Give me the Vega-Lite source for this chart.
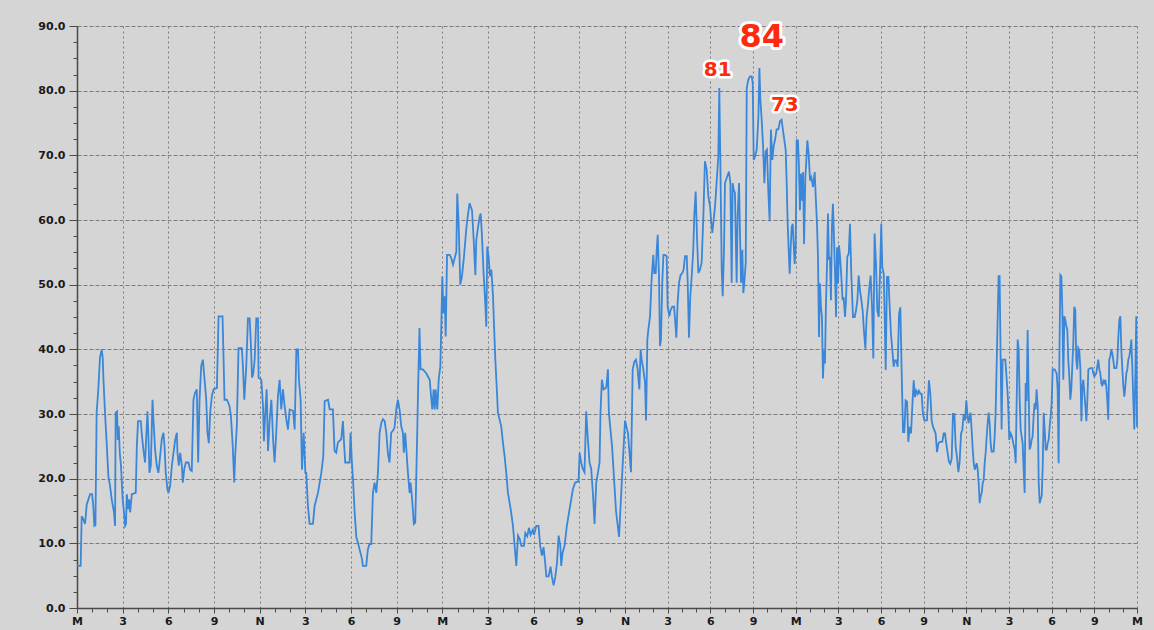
{
"$schema": "https://vega.github.io/schema/vega-lite/v6.json",
"width": 1060, "height": 582,
"autosize": {"type": "none"},
"padding": {"left": 77, "top": 26, "right": 17, "bottom": 22},
"background": "#d5d5d5",
"config": {"view": {"stroke": null, "fill": "#d5d5d5"}},
"datasets": {
"big": [{"label": "84", "h": 45.61, "v": 88.3}],
"small": [{"label": "81", "h": 42.52, "v": 83.2}, {"label": "73", "h": 47.24, "v": 77.8}],
"series": [
{"h":0,"v":6.5},{"h":0.24,"v":6.5},{"h":0.31,"v":14.2},{"h":0.42,"v":13.7},{"h":0.53,"v":13.0},{"h":0.64,"v":16},{"h":0.86,"v":17.6},{"h":0.99,"v":17.6},{"h":1.07,"v":15.8},{"h":1.14,"v":12.7},{"h":1.21,"v":12.8},{"h":1.25,"v":21.4},{"h":1.29,"v":30.2},{"h":1.40,"v":33.8},{"h":1.51,"v":38.7},{"h":1.62,"v":40},{"h":1.69,"v":38.7},{"h":1.73,"v":35.8},{"h":1.84,"v":30.2},{"h":1.95,"v":25.5},{"h":2.06,"v":20.4},{"h":2.17,"v":18.9},{"h":2.28,"v":16.8},{"h":2.43,"v":14.8},{"h":2.50,"v":12.7},{"h":2.54,"v":30.2},{"h":2.63,"v":30.4},{"h":2.68,"v":26},{"h":2.74,"v":28.1},{"h":2.81,"v":24},{"h":2.89,"v":22},{"h":3.00,"v":16.8},{"h":3.09,"v":14.8},{"h":3.16,"v":12.7},{"h":3.22,"v":13},{"h":3.27,"v":17.6},{"h":3.36,"v":15.3},{"h":3.42,"v":16.8},{"h":3.49,"v":14.8},{"h":3.60,"v":17.6},{"h":3.86,"v":17.8},{"h":3.93,"v":25},{"h":4.01,"v":28.9},{"h":4.19,"v":28.9},{"h":4.25,"v":27.1},{"h":4.36,"v":24.5},{"h":4.47,"v":22.5},{"h":4.54,"v":26},{"h":4.63,"v":30.4},{"h":4.69,"v":26.6},{"h":4.76,"v":20.9},{"h":4.85,"v":22},{"h":4.96,"v":32.2},{"h":5.02,"v":29.2},{"h":5.13,"v":24.5},{"h":5.24,"v":22},{"h":5.35,"v":20.9},{"h":5.46,"v":23.5},{"h":5.57,"v":26.1},{"h":5.68,"v":27.1},{"h":5.75,"v":25},{"h":5.83,"v":20.9},{"h":5.94,"v":18.4},{"h":6.01,"v":17.8},{"h":6.12,"v":18.9},{"h":6.23,"v":22},{"h":6.34,"v":24},{"h":6.45,"v":26},{"h":6.56,"v":27.1},{"h":6.60,"v":24},{"h":6.69,"v":22},{"h":6.78,"v":24},{"h":6.89,"v":22},{"h":6.95,"v":19.4},{"h":7.04,"v":21.4},{"h":7.15,"v":22.5},{"h":7.32,"v":22.5},{"h":7.43,"v":21.4},{"h":7.54,"v":21.2},{"h":7.65,"v":32.2},{"h":7.76,"v":33.3},{"h":7.87,"v":33.8},{"h":7.96,"v":22.5},{"h":8.05,"v":32.2},{"h":8.16,"v":37.4},{"h":8.27,"v":38.4},{"h":8.38,"v":35.3},{"h":8.49,"v":32.2},{"h":8.57,"v":27.1},{"h":8.66,"v":25.5},{"h":8.75,"v":30.2},{"h":8.86,"v":32.8},{"h":8.97,"v":33.8},{"h":9.19,"v":34},{"h":9.30,"v":45.1},{"h":9.56,"v":45.1},{"h":9.63,"v":38.4},{"h":9.69,"v":32.2},{"h":9.85,"v":32.2},{"h":10.02,"v":31.2},{"h":10.11,"v":29.7},{"h":10.22,"v":25.5},{"h":10.33,"v":19.4},{"h":10.39,"v":23.5},{"h":10.50,"v":28.1},{"h":10.61,"v":40.2},{"h":10.83,"v":40.2},{"h":10.90,"v":37.4},{"h":10.99,"v":32.2},
{"h":11.12,"v":37.4},{"h":11.23,"v":44.8},{"h":11.34,"v":44.8},{"h":11.41,"v":41.5},{"h":11.50,"v":35.6},{"h":11.58,"v":36.3},{"h":11.67,"v":38.4},{"h":11.78,"v":44.8},{"h":11.89,"v":44.8},{"h":11.93,"v":35.6},{"h":12.11,"v":35.3},{"h":12.22,"v":31.2},{"h":12.28,"v":25.8},{"h":12.37,"v":30.2},{"h":12.46,"v":33.8},{"h":12.55,"v":24.3},{"h":12.66,"v":29.2},{"h":12.77,"v":32.2},{"h":12.88,"v":26.1},{"h":12.98,"v":22.5},{"h":13.09,"v":27.1},{"h":13.20,"v":32.7},{"h":13.31,"v":35.3},{"h":13.42,"v":30.7},{"h":13.53,"v":33.8},{"h":13.64,"v":31.2},{"h":13.75,"v":29.2},{"h":13.86,"v":27.6},{"h":13.97,"v":30.7},{"h":14.19,"v":30.5},{"h":14.30,"v":27.6},{"h":14.41,"v":40},{"h":14.52,"v":40},{"h":14.58,"v":35.3},{"h":14.69,"v":32.2},{"h":14.78,"v":21.4},{"h":14.89,"v":27.1},{"h":15.00,"v":20.9},{"h":15.06,"v":20.9},{"h":15.17,"v":15.8},{"h":15.28,"v":13.0},{"h":15.50,"v":13.0},{"h":15.61,"v":15.8},{"h":15.83,"v":17.8},{"h":16.05,"v":20.9},{"h":16.18,"v":23.5},{"h":16.27,"v":32},{"h":16.49,"v":32.2},{"h":16.60,"v":30.7},{"h":16.81,"v":30.7},{"h":16.92,"v":24.3},{"h":17.03,"v":24},{"h":17.14,"v":25.6},{"h":17.36,"v":26.1},{"h":17.47,"v":28.9},{"h":17.54,"v":25.6},{"h":17.62,"v":22.5},{"h":17.91,"v":22.5},{"h":17.97,"v":27.1},{"h":18.06,"v":22.5},{"h":18.13,"v":19.9},{"h":18.24,"v":14.8},{"h":18.35,"v":10.9},{"h":18.46,"v":10.1},{"h":18.56,"v":9.1},{"h":18.72,"v":7.6},{"h":18.78,"v":6.5},{"h":19.00,"v":6.5},{"h":19.11,"v":9.1},{"h":19.22,"v":9.9},{"h":19.33,"v":9.9},{"h":19.44,"v":17.8},{"h":19.55,"v":19.4},{"h":19.66,"v":17.8},{"h":19.77,"v":20.9},{"h":19.88,"v":27.1},{"h":19.99,"v":28.6},{"h":20.10,"v":29.2},{"h":20.21,"v":28.9},{"h":20.32,"v":27.1},{"h":20.42,"v":24},{"h":20.53,"v":22.5},{"h":20.64,"v":27.1},{"h":20.75,"v":27.4},{"h":20.86,"v":27.9},{"h":20.97,"v":30.7},{"h":21.08,"v":32.2},{"h":21.19,"v":30.7},{"h":21.30,"v":28.1},{"h":21.41,"v":27.1},{"h":21.47,"v":24},{"h":21.56,"v":27.1},{"h":21.65,"v":24},{"h":21.74,"v":20.9},{"h":21.85,"v":17.8},{"h":21.91,"v":19.4},{"h":22.00,"v":17.3},{"h":22.13,"v":13},{"h":22.22,"v":13.2},{"h":22.28,"v":19.4},{"h":22.35,"v":27.1},{"h":22.42,"v":35.3},{"h":22.50,"v":43.3},{"h":22.57,"v":36.9},{"h":22.72,"v":36.9},{"h":22.94,"v":36.3},
{"h":23.17,"v":35.3},{"h":23.28,"v":32.2},{"h":23.34,"v":30.7},{"h":23.43,"v":33.8},{"h":23.50,"v":30.7},{"h":23.56,"v":33.8},{"h":23.67,"v":30.7},{"h":23.76,"v":35.3},{"h":23.87,"v":37.4},{"h":23.93,"v":43.5},{"h":24.00,"v":51.3},{"h":24.07,"v":45.6},{"h":24.15,"v":48.2},{"h":24.22,"v":42},{"h":24.31,"v":54.6},{"h":24.48,"v":54.6},{"h":24.59,"v":54.1},{"h":24.70,"v":53.1},{"h":24.81,"v":54.1},{"h":24.92,"v":55.1},{"h":24.98,"v":64.1},{"h":25.07,"v":59.5},{"h":25.18,"v":50},{"h":25.29,"v":51.3},{"h":25.42,"v":54.3},{"h":25.58,"v":58.8},{"h":25.68,"v":60.8},{"h":25.79,"v":62.6},{"h":25.95,"v":61.5},{"h":26.06,"v":56.9},{"h":26.17,"v":51.5},{"h":26.23,"v":56.9},{"h":26.34,"v":58.8},{"h":26.45,"v":60.5},{"h":26.52,"v":61},{"h":26.60,"v":57.7},{"h":26.71,"v":51.8},{"h":26.82,"v":47.1},{"h":26.89,"v":43.5},{"h":26.95,"v":55.9},{"h":27.04,"v":54.3},{"h":27.13,"v":51.3},{"h":27.22,"v":52.3},{"h":27.33,"v":48.2},{"h":27.39,"v":44.1},{"h":27.48,"v":38.5},{"h":27.57,"v":34.3},{"h":27.65,"v":30.2},{"h":27.87,"v":28.1},{"h":27.98,"v":25.6},{"h":28.09,"v":23.5},{"h":28.20,"v":20.9},{"h":28.31,"v":17.8},{"h":28.49,"v":15.3},{"h":28.64,"v":12.7},{"h":28.75,"v":9.6},{"h":28.86,"v":6.5},{"h":28.97,"v":11.2},{"h":29.08,"v":10.7},{"h":29.19,"v":9.6},{"h":29.36,"v":9.6},{"h":29.45,"v":11.6},{"h":29.58,"v":11.1},{"h":29.69,"v":12.4},{"h":29.80,"v":11.3},{"h":29.95,"v":12.1},{"h":30.02,"v":11.3},{"h":30.17,"v":12.7},{"h":30.32,"v":12.7},{"h":30.43,"v":9.6},{"h":30.54,"v":8.1},{"h":30.65,"v":9.4},{"h":30.76,"v":6.9},{"h":30.83,"v":4.9},{"h":30.98,"v":4.9},{"h":31.11,"v":6.4},{"h":31.20,"v":4.8},{"h":31.31,"v":3.5},{"h":31.42,"v":4.8},{"h":31.53,"v":6.9},{"h":31.64,"v":11.2},{"h":31.75,"v":9.6},{"h":31.81,"v":6.5},{"h":31.90,"v":8.6},{"h":32.03,"v":9.6},{"h":32.18,"v":12.7},{"h":32.36,"v":15.3},{"h":32.58,"v":18.4},{"h":32.73,"v":19.4},{"h":32.95,"v":19.6},{"h":33.02,"v":24},{"h":33.12,"v":22.5},{"h":33.23,"v":21.5},{"h":33.34,"v":21},{"h":33.45,"v":30.4},{"h":33.56,"v":26.1},{"h":33.67,"v":22.5},{"h":33.78,"v":21.5},{"h":33.89,"v":17.8},{"h":34.00,"v":13},{"h":34.11,"v":19.4},{"h":34.22,"v":20.9},{"h":34.33,"v":22.5},{"h":34.39,"v":30.2},{"h":34.48,"v":35.3},{"h":34.59,"v":33.8},{"h":34.77,"v":34.1},{"h":34.88,"v":36.9},{"h":34.94,"v":30.2},
{"h":35.15,"v":25},{"h":35.41,"v":15},{"h":35.61,"v":11},{"h":35.80,"v":20},{"h":36.0,"v":29},{"h":36.21,"v":27},{"h":36.42,"v":21},
{"h":36.54,"v":36.9},{"h":36.66,"v":38.1},{"h":36.77,"v":38.4},{"h":36.89,"v":36.9},{"h":37.01,"v":33.8},{"h":37.10,"v":40},{"h":37.17,"v":38.4},{"h":37.29,"v":36.9},{"h":37.41,"v":34.8},{"h":37.48,"v":29},{"h":37.57,"v":41.5},{"h":37.64,"v":43},{"h":37.76,"v":45.1},{"h":37.87,"v":50.8},{"h":37.99,"v":54.6},{"h":38.06,"v":51.8},{"h":38.16,"v":51.8},{"h":38.23,"v":55.4},{"h":38.30,"v":57.7},{"h":38.39,"v":51.3},{"h":38.46,"v":40.5},{"h":38.53,"v":41.5},{"h":38.62,"v":50.3},{"h":38.70,"v":54.6},{"h":38.81,"v":54.6},{"h":38.93,"v":54.4},{"h":39.00,"v":46.6},{"h":39.12,"v":45.1},{"h":39.21,"v":46.1},{"h":39.33,"v":46.6},{"h":39.45,"v":46.6},{"h":39.52,"v":44.6},{"h":39.61,"v":41.8},{"h":39.70,"v":47.2},{"h":39.80,"v":50.3},{"h":39.91,"v":51.5},{"h":40.03,"v":51.8},{"h":40.12,"v":52.3},{"h":40.22,"v":54.4},{"h":40.34,"v":54.4},{"h":40.41,"v":50.3},{"h":40.50,"v":41.8},{"h":40.59,"v":48.2},{"h":40.69,"v":51.3},{"h":40.80,"v":55.4},{"h":40.87,"v":60.6},{"h":40.97,"v":64.4},{"h":41.06,"v":57.5},{"h":41.16,"v":51.8},{"h":41.27,"v":52.3},{"h":41.39,"v":53.4},{"h":41.51,"v":60.6},{"h":41.62,"v":69.1},{"h":41.74,"v":67.8},{"h":41.86,"v":63.7},{"h":41.98,"v":62.1},{"h":42.05,"v":60.1},{"h":42.14,"v":58},{"h":42.21,"v":59.5},{"h":42.33,"v":62.1},{"h":42.44,"v":65.7},{"h":42.56,"v":69.8},{"h":42.63,"v":80.4},{"h":42.70,"v":69.8},{"h":42.80,"v":52.3},{"h":42.87,"v":48.2},{"h":42.96,"v":55.4},{"h":43.03,"v":65.7},{"h":43.15,"v":66.5},{"h":43.31,"v":67.5},{"h":43.41,"v":65.7},{"h":43.50,"v":50.3},{"h":43.57,"v":65.7},{"h":43.64,"v":64.7},{"h":43.73,"v":64.2},{"h":43.85,"v":50.3},{"h":43.92,"v":60.6},{"h":44.02,"v":65.7},{"h":44.09,"v":57.5},{"h":44.16,"v":50.3},{"h":44.25,"v":55.4},{"h":44.32,"v":48.7},{"h":44.39,"v":50.3},{"h":44.49,"v":53.4},{"h":44.56,"v":80.4},{"h":44.67,"v":81.7},{"h":44.79,"v":82.2},{"h":44.91,"v":82.2},{"h":44.98,"v":81.2},{"h":45.05,"v":69.3},{"h":45.14,"v":69.8},{"h":45.26,"v":70.9},{"h":45.38,"v":76},{"h":45.45,"v":83.5},{"h":45.52,"v":78.6},{"h":45.61,"v":75.5},{"h":45.71,"v":71.4},{"h":45.80,"v":65.7},{"h":45.89,"v":70.6},{"h":45.98,"v":70.9},{"h":46.08,"v":64.2},{"h":46.17,"v":59.8},{"h":46.26,"v":74},{"h":46.36,"v":69.3},{"h":46.45,"v":71.4},{"h":46.55,"v":72.4},{"h":46.66,"v":74},{"h":46.78,"v":74},{"h":46.90,"v":75.3},{"h":47.01,"v":75.5},{"h":47.13,"v":73.5},
{"h":47.30,"v":70.8},{"h":47.37,"v":65.6},{"h":47.44,"v":59.4},{"h":47.51,"v":55.3},{"h":47.58,"v":51.7},{"h":47.65,"v":55.8},{"h":47.72,"v":58.9},{"h":47.79,"v":59.4},{"h":47.86,"v":56.3},{"h":47.93,"v":53.2},{"h":48.00,"v":55.8},{"h":48.07,"v":72.3},{"h":48.16,"v":72.3},{"h":48.23,"v":68.2},{"h":48.30,"v":61.5},{"h":48.37,"v":67.2},{"h":48.45,"v":63},{"h":48.52,"v":67.4},{"h":48.59,"v":56.3},{"h":48.68,"v":66.6},{"h":48.75,"v":69.2},{"h":48.82,"v":72.3},{"h":48.91,"v":70.3},{"h":49.01,"v":66.1},{"h":49.10,"v":66.6},{"h":49.22,"v":65.1},{"h":49.34,"v":67.4},{"h":49.41,"v":63.6},{"h":49.50,"v":59.4},{"h":49.57,"v":54.3},{"h":49.64,"v":41.9},{"h":49.71,"v":50.2},{"h":49.78,"v":46.5},{"h":49.85,"v":45},{"h":49.92,"v":35.5},{"h":49.99,"v":39.8},{"h":50.06,"v":37.8},{"h":50.13,"v":47.1},{"h":50.20,"v":52.7},{"h":50.27,"v":61},{"h":50.34,"v":53.8},{"h":50.41,"v":54.3},{"h":50.48,"v":47.6},{"h":50.55,"v":58.9},{"h":50.62,"v":62.5},{"h":50.70,"v":56.9},{"h":50.77,"v":51.7},{"h":50.84,"v":45},{"h":50.91,"v":55.8},{"h":50.98,"v":50.2},{"h":51.05,"v":56.1},{"h":51.14,"v":53.8},{"h":51.21,"v":51.2},{"h":51.30,"v":47.6},{"h":51.37,"v":48.1},{"h":51.47,"v":45},{"h":51.54,"v":47.6},{"h":51.63,"v":54.3},{"h":51.73,"v":54.8},{"h":51.82,"v":59.4},{"h":51.91,"v":51.7},{"h":52.03,"v":45},{"h":52.15,"v":45},{"h":52.24,"v":46},{"h":52.34,"v":47.6},{"h":52.43,"v":51.4},{"h":52.52,"v":49.1},{"h":52.62,"v":47.6},{"h":52.71,"v":46},{"h":52.80,"v":42.9},{"h":52.90,"v":40.1},{"h":52.99,"v":45},{"h":53.09,"v":47.1},{"h":53.18,"v":49.6},{"h":53.27,"v":51.4},{"h":53.37,"v":46.5},{"h":53.46,"v":38.6},{"h":53.55,"v":57.9},{"h":53.65,"v":53.2},{"h":53.74,"v":46},{"h":53.84,"v":45},{"h":53.93,"v":51.7},{"h":54.02,"v":59.4},{"h":54.09,"v":52.7},{"h":54.19,"v":51.7},{"h":54.26,"v":45},{"h":54.33,"v":36.8},{"h":54.42,"v":51.2},{"h":54.52,"v":51.2},{"h":54.61,"v":46.5},{"h":54.70,"v":42.4},{"h":54.80,"v":39.8},{"h":54.89,"v":37.3},{"h":54.98,"v":38.3},{"h":55.08,"v":38.3},{"h":55.17,"v":37.3},{"h":55.27,"v":45.5},{"h":55.36,"v":46.5},{"h":55.45,"v":36.8},{"h":55.55,"v":27.2},{"h":55.64,"v":27.2},{"h":55.73,"v":32.1},{"h":55.83,"v":31.9},{"h":55.92,"v":25.7},{"h":56.02,"v":28},{"h":56.11,"v":27},{"h":56.20,"v":31.1},{"h":56.30,"v":35.2},{"h":56.39,"v":32.6},{"h":56.48,"v":33.6},{"h":56.58,"v":33.1},{"h":56.67,"v":33.6},{"h":56.77,"v":33.1},{"h":56.86,"v":33.1},{"h":56.95,"v":30},{"h":57.05,"v":29},{"h":57.14,"v":29},{"h":57.23,"v":29},{"h":57.37,"v":35.2},{"h":57.47,"v":33.1},{"h":57.56,"v":29},{"h":57.66,"v":28},{"h":57.75,"v":27.5},{"h":57.84,"v":27},{"h":57.94,"v":24.1},{"h":58.03,"v":25.4},{"h":58.12,"v":25.7},{"h":58.22,"v":25.7},{"h":58.31,"v":25.7},{"h":58.41,"v":27},{"h":58.50,"v":27},{"h":58.59,"v":25.4},{"h":58.69,"v":23.9},{"h":58.78,"v":22.6},{"h":58.87,"v":22.3},{"h":58.97,"v":23.1},{"h":59.06,"v":30},{"h":59.16,"v":30},{"h":59.25,"v":24.9},{"h":59.34,"v":23.4},{"h":59.44,"v":21},{"h":59.53,"v":22.6},{"h":59.63,"v":27},{"h":59.72,"v":27.5},{"h":59.81,"v":30},{"h":59.91,"v":29},{"h":60.00,"v":32.1},
{"h":60.09,"v":29.6},{"h":60.16,"v":28.6},{"h":60.23,"v":29.6},{"h":60.30,"v":30.2},{"h":60.37,"v":27.6},{"h":60.45,"v":24.5},{"h":60.52,"v":22.4},{"h":60.59,"v":21.4},{"h":60.66,"v":21.9},{"h":60.73,"v":22.4},{"h":60.80,"v":21.4},{"h":60.87,"v":19.3},{"h":60.94,"v":16.2},{"h":61.01,"v":17.3},{"h":61.08,"v":17.8},{"h":61.15,"v":19.3},{"h":61.22,"v":19.8},{"h":61.29,"v":22.4},{"h":61.36,"v":24},{"h":61.43,"v":26.5},{"h":61.50,"v":28.6},{"h":61.57,"v":30.2},{"h":61.64,"v":28.6},{"h":61.71,"v":25.5},{"h":61.78,"v":24.2},{"h":61.92,"v":24.2},{"h":61.99,"v":26.5},{"h":62.06,"v":30.2},{"h":62.13,"v":37.4},{"h":62.20,"v":44.6},{"h":62.27,"v":51.3},{"h":62.34,"v":51.3},{"h":62.41,"v":38.9},{"h":62.48,"v":27.6},{"h":62.55,"v":38.4},{"h":62.65,"v":38.4},{"h":62.74,"v":38.4},{"h":62.84,"v":35.3},{"h":62.93,"v":32.2},{"h":63.02,"v":26},{"h":63.12,"v":27},{"h":63.21,"v":26.5},{"h":63.30,"v":25.5},{"h":63.40,"v":24.5},{"h":63.47,"v":22.4},{"h":63.54,"v":32.2},{"h":63.61,"v":41.5},{"h":63.68,"v":40},{"h":63.75,"v":32.2},{"h":63.82,"v":27.6},{"h":63.89,"v":26.5},{"h":63.96,"v":25.5},{"h":64.03,"v":21.4},{"h":64.10,"v":17.8},{"h":64.17,"v":34.8},{"h":64.24,"v":32},{"h":64.31,"v":43},{"h":64.38,"v":33.8},{"h":64.45,"v":24.5},{"h":64.52,"v":25},{"h":64.59,"v":26},{"h":64.66,"v":26.5},{"h":64.73,"v":29.6},{"h":64.80,"v":31.7},{"h":64.87,"v":30.7},{"h":64.94,"v":33.8},{"h":65.02,"v":31.2},{"h":65.09,"v":19.3},{"h":65.16,"v":16.2},{"h":65.23,"v":16.8},{"h":65.30,"v":17.3},{"h":65.37,"v":21.9},{"h":65.44,"v":30.2},{"h":65.51,"v":27.6},{"h":65.58,"v":24.5},{"h":65.65,"v":24.5},{"h":65.72,"v":25.5},{"h":65.79,"v":26},{"h":65.86,"v":28.1},{"h":65.93,"v":29.6},{"h":66.00,"v":31.7},{"h":66.07,"v":36.9},{"h":66.21,"v":36.9},{"h":66.35,"v":36.3},{"h":66.42,"v":33.8},{"h":66.49,"v":22.4},{"h":66.54,"v":37.9},{"h":66.61,"v":51.5},{"h":66.68,"v":51.3},{"h":66.75,"v":46.1},{"h":66.82,"v":35.3},{"h":66.89,"v":45.1},{"h":66.96,"v":44.6},{"h":67.03,"v":43.6},{"h":67.10,"v":43},{"h":67.17,"v":38.4},{"h":67.24,"v":35.8},{"h":67.31,"v":32.2},{"h":67.38,"v":33.8},{"h":67.45,"v":37.4},{"h":67.52,"v":41},{"h":67.59,"v":46.6},{"h":67.66,"v":46.1},{"h":67.73,"v":38.4},{"h":67.80,"v":36.9},{"h":67.87,"v":40.2},{"h":67.94,"v":39.9},{"h":68.02,"v":36.9},{"h":68.09,"v":28.9},{"h":68.16,"v":34.3},{"h":68.23,"v":35.3},{"h":68.30,"v":33.2},{"h":68.37,"v":31.2},{"h":68.44,"v":28.9},{"h":68.51,"v":32.2},{"h":68.58,"v":36.9},{"h":68.72,"v":37.1},{"h":68.86,"v":37.1},{"h":68.93,"v":36.3},{"h":69.00,"v":35.8},{"h":69.14,"v":36.3},{"h":69.21,"v":37.4},{"h":69.28,"v":38.4},{"h":69.35,"v":36.9},{"h":69.42,"v":36.3},{"h":69.49,"v":34.8},{"h":69.56,"v":34.3},{"h":69.63,"v":35.1},{"h":69.70,"v":34.8},{"h":69.77,"v":35.3},{"h":69.84,"v":34.3},{"h":69.91,"v":32.2},{"h":69.98,"v":29.1},{"h":70.05,"v":38.4},{"h":70.12,"v":38.9},{"h":70.19,"v":39.9},{"h":70.26,"v":39.4},{"h":70.33,"v":38.4},{"h":70.40,"v":37.1},{"h":70.55,"v":37.1},{"h":70.62,"v":38.4},{"h":70.69,"v":42},{"h":70.76,"v":44.6},{"h":70.83,"v":45.1},{"h":70.90,"v":39.9},{"h":70.97,"v":36.9},{"h":71.04,"v":34.3},{"h":71.11,"v":32.7},{"h":71.18,"v":34.3},{"h":71.25,"v":36.3},{"h":71.32,"v":36.9},{"h":71.39,"v":38.4},{"h":71.46,"v":38.9},{"h":71.53,"v":39.9},{"h":71.60,"v":41.5},{"h":71.67,"v":37.4},{"h":71.74,"v":32.2},{"h":71.81,"v":27.6},{"h":71.88,"v":35.8},{"h":71.95,"v":45.1},{"h":72.0,"v":28}
]
},
"layer": [
{
"data": {"name": "series"},
"mark": {"type": "line", "color": "#3a86d8", "strokeWidth": 1.8},
"encoding": {
"x": {"field": "h", "type": "quantitative",
"scale": {"domain": [0, 36, 72], "range": [0, 548, 1060], "nice": false, "zero": false},
"axis": {"orient": "bottom", "values": [0,3,6,9,12,15,18,21,24,27,30,33,36,39,42,45,48,51,54,57,60,63,66,69,72],
"labelExpr": "datum.value % 24 == 0 ? 'M' : (datum.value % 24 == 12 ? 'N' : '' + (datum.value % 12))",
"title": null, "grid": true, "gridColor": "#7c7c7c", "gridDash": [2, 3], "gridWidth": 1,
"domainColor": "#4a4a4a", "domainWidth": 1.5, "tickColor": "#4a4a4a", "tickSize": 5,
"labelFont": "DejaVu Sans", "labelFontWeight": "bold", "labelFontSize": 11, "labelColor": "#1a1a1a",
"labelPadding": 2, "labelFlush": false, "labelOverlap": false}},
"y": {"field": "v", "type": "quantitative",
"scale": {"domain": [0, 90], "nice": false, "zero": true},
"axis": {"orient": "left", "values": [0,10,20,30,40,50,60,70,80,90], "format": ".1f",
"title": null, "grid": true, "gridColor": "#7c7c7c", "gridDash": [4, 2], "gridWidth": 1,
"domainColor": "#4a4a4a", "domainWidth": 1.5, "tickColor": "#4a4a4a", "tickSize": 8,
"labelFont": "DejaVu Sans", "labelFontWeight": "bold", "labelFontSize": 11, "labelColor": "#1a1a1a",
"labelPadding": 4}}
}
},
{
"data": {"name": "big"},
"mark": {"type": "text", "font": "DejaVu Sans", "fontWeight": "bold", "fontSize": 32, "fill": "white", "stroke": "white", "strokeWidth": 6, "strokeJoin": "round", "baseline": "middle", "align": "center"},
"encoding": {
"x": {"field": "h", "type": "quantitative",
"axis": {"orient": "bottom", "values": [0,1,2,3,4,5,6,7,8,9,10,11,12,13,14,15,16,17,18,19,20,21,22,23,24,25,26,27,28,29,30,31,32,33,34,35,36,37,38,39,40,41,42,43,44,45,46,47,48,49,50,51,52,53,54,55,56,57,58,59,60,61,62,63,64,65,66,67,68,69,70,71,72],
"labels": false, "domain": false, "grid": false, "tickSize": 4, "tickColor": "#4a4a4a", "title": null}},
"y": {"field": "v", "type": "quantitative",
"axis": {"orient": "left", "values": [0,2.5,5,7.5,10,12.5,15,17.5,20,22.5,25,27.5,30,32.5,35,37.5,40,42.5,45,47.5,50,52.5,55,57.5,60,62.5,65,67.5,70,72.5,75,77.5,80,82.5,85,87.5,90],
"labels": false, "domain": false, "grid": false, "tickSize": 4, "tickColor": "#4a4a4a", "title": null}},
"text": {"field": "label"}
}
},
{
"data": {"name": "big"},
"mark": {"type": "text", "font": "DejaVu Sans", "fontWeight": "bold", "fontSize": 32, "fill": "#ff2a0d", "baseline": "middle", "align": "center"},
"encoding": {
"x": {"field": "h", "type": "quantitative", "axis": null},
"y": {"field": "v", "type": "quantitative", "axis": null},
"text": {"field": "label"}
}
},
{
"data": {"name": "small"},
"mark": {"type": "text", "font": "DejaVu Sans", "fontWeight": "bold", "fontSize": 20, "fill": "white", "stroke": "white", "strokeWidth": 5, "strokeJoin": "round", "baseline": "middle", "align": "center"},
"encoding": {
"x": {"field": "h", "type": "quantitative", "axis": null},
"y": {"field": "v", "type": "quantitative", "axis": null},
"text": {"field": "label"}
}
},
{
"data": {"name": "small"},
"mark": {"type": "text", "font": "DejaVu Sans", "fontWeight": "bold", "fontSize": 20, "fill": "#ff2a0d", "baseline": "middle", "align": "center"},
"encoding": {
"x": {"field": "h", "type": "quantitative", "axis": null},
"y": {"field": "v", "type": "quantitative", "axis": null},
"text": {"field": "label"}
}
}
],
"resolve": {"axis": {"x": "independent", "y": "independent"}}
}
